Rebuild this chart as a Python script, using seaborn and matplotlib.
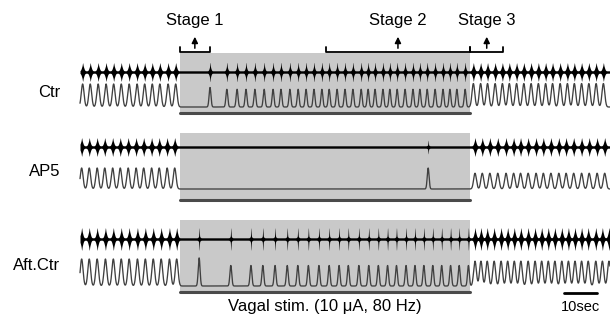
import numpy as np
import pandas as pd
import seaborn as sns
import matplotlib.pyplot as plt

# times in seconds (scale bar = 10 s)
stim_on, stim_off = 30.3, 118.2
t_end = 160.6

# burst times, control
ctr_pre = [0.8, 3.1, 5.5, 7.9, 10.2, 12.5, 14.9, 17.3, 19.6, 21.9, 24.2, 26.7, 29.0]
ctr_stim = [39.4, 44.5, 47.6, 50.3, 53.0, 55.8, 58.5, 60.9, 63.6, 66.1, 68.5, 70.9,
            73.3, 75.5, 77.9, 80.3, 82.7, 85.2, 87.3, 89.4, 91.8, 93.9, 96.1, 98.5,
            100.9, 103.0, 105.2, 107.6, 110.0, 112.1, 114.2, 116.7]
ctr_post = [119.2, 121.4, 123.5, 125.8, 128.0, 130.1, 132.3, 134.5, 136.7, 138.9,
            141.1, 143.2, 145.5, 147.7, 149.8, 152.0, 154.2, 156.4, 158.6]

# burst times, AP5
ap5_pre = [0.5, 2.8, 5.2, 7.5, 9.9, 12.2, 14.6, 17.0, 19.3, 21.7, 24.0, 26.4, 28.7]
ap5_stim = [105.5]
ap5_post = [119.7, 121.9, 124.2, 126.6, 129.1, 131.4, 133.5, 135.8, 138.2, 140.4,
            142.7, 145.1, 147.3, 149.6, 152.0, 154.3, 156.7, 159.0]

# burst times, after control
aft_pre = [0.5, 2.8, 5.2, 7.7, 10.1, 12.5, 14.9, 17.4, 19.8, 22.2, 24.6, 27.1, 29.3]
aft_stim = [36.1, 45.7, 51.8, 55.4, 59.1, 62.8, 66.0, 69.2, 72.4, 75.5, 78.5, 81.3,
            84.5, 87.5, 90.4, 93.2, 95.9, 98.8, 101.5, 104.2, 106.9, 109.6, 112.3,
            114.9, 117.7]
aft_post = [119.7, 121.5, 123.4, 125.5, 127.6, 129.6, 131.6, 133.6, 135.8, 137.9,
            139.9, 141.9, 143.9, 146.0, 148.0, 150.0, 152.0, 154.0, 156.3, 158.3, 160.3]

# relative height of integrated peaks: pre, stim, post, first burst in stim
ctr_amp = [1.0, 0.77, 1.02, 0.85]
ap5_amp = [1.0, 1.0, 0.75, 1.0]
aft_amp = [1.0, 0.76, 0.92, 1.04]

row_labels = ["Ctr", "AP5", "Aft.Ctr"]
stage_names = ["Stage 1", "Stage 2", "Stage 3"]
stage_start = [30.3, 74.5, 118.2]
stage_end = [39.3, 118.2, 128.3]

rows = [(ctr_pre, ctr_stim, ctr_post, ctr_amp),
        (ap5_pre, ap5_stim, ap5_post, ap5_amp),
        (aft_pre, aft_stim, aft_post, aft_amp)]

# layout (figure pixels, y down)
box_top = [53, 133, 220]
burst_y = [72, 147, 239]
base_y = [107, 189, 286]
scale = [23, 21, 27]
bar_y = [113, 200, 292]
burst_h = [8, 8, 10]
# spindle shape during stim: (wide part, narrow spike)
stim_shape = [(0.55, 0.5), (0.1, 0.6), (0.15, 0.85)]


def gauss(t, times, amps, sd):
    out = np.zeros_like(t)
    for tk, a in zip(times, amps):
        out += a * np.exp(-(t - tk) ** 2 / (2 * sd ** 2))
    return out


sns.set_style("white")
plt.rcParams["font.family"] = ["Liberation Sans", "DejaVu Sans"]
plt.rcParams["text.color"] = "black"

fig = plt.figure(figsize=(6.1, 3.2), dpi=100)
ax = fig.add_axes([0, 0, 1, 1])
ax.set_xlim(-80 / 3.3, 530 / 3.3)
ax.set_ylim(320, 0)
ax.axis("off")

t = np.arange(0, t_end, 0.02)

for i, (pre, stim, post, amp) in enumerate(rows):
    # stimulation window
    ax.fill_between([stim_on, stim_off], box_top[i], bar_y[i], color="#c9c9c9", lw=0, zorder=0)
    ax.plot([stim_on, stim_off], [bar_y[i], bar_y[i]], color="#4a4a4a", lw=2.2, zorder=1)

    # integrated activity
    stim_amps = [amp[3]] + [amp[1]] * (len(stim) - 1)
    sig = (gauss(t, pre, [amp[0]] * len(pre), 0.42)
           + gauss(t, stim, stim_amps, 0.28)
           + gauss(t, post, [amp[2]] * len(post), 0.42))
    df = pd.DataFrame({"t": t, "y": base_y[i] - scale[i] * sig})
    sns.lineplot(data=df, x="t", y="y", ax=ax, color="#404040", lw=0.95,
                 estimator=None, zorder=3)

    # raw nerve bursts as filled spindles
    wide, narrow = stim_shape[i]
    env = (gauss(t, pre + post, [0.7] * len(pre + post), 0.32)
           + gauss(t, pre + post, [0.3] * len(pre + post), 0.08)
           + gauss(t, stim, [wide] * len(stim), 0.25)
           + gauss(t, stim, [narrow] * len(stim), 0.07))
    half = 1.2 + burst_h[i] * env
    ax.fill_between(t, burst_y[i] - half, burst_y[i] + half, color="black", lw=0, zorder=3)

    ax.text(-6, (base_y[i] + burst_y[i]) / 2 + 3, row_labels[i], ha="right", va="center",
            fontsize=12)

# stage brackets
for name, s0, s1 in zip(stage_names, stage_start, stage_end):
    mid = (s0 + s1) / 2
    ax.plot([s0, s0, s1, s1], [47, 52, 52, 47], color="black", lw=1.3, zorder=4)
    ax.annotate("", xy=(mid, 34), xytext=(mid, 51),
                arrowprops=dict(arrowstyle="-|>", color="black", lw=1.1, mutation_scale=9))
    ax.text(mid, 20, name, ha="center", va="center", fontsize=12)

ax.text((stim_on + stim_off) / 2, 306, "Vagal stim. (10 \u03bcA, 80 Hz)", ha="center",
        va="center", fontsize=12)

# scale bar 10 s
ax.plot([146.7, 156.7], [293, 293], color="black", lw=2)
ax.text(151.7, 307, "10sec", ha="center", va="center", fontsize=10.5)

fig.savefig("out.png", dpi=100)
